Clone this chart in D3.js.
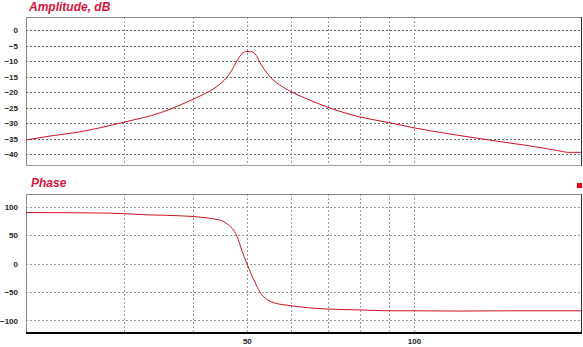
<!DOCTYPE html>
<html>
<head>
<meta charset="utf-8">
<script src="https://cdn.jsdelivr.net/npm/d3@7"></script>
<style>
  body { margin: 0; background: #fff; }
  svg { display: block; }
  .tick text { font-family: "Liberation Sans", Arial, sans-serif; font-weight: bold; font-size: 8px; fill: #222; }
  .title { font-family: "Liberation Sans", Arial, sans-serif; font-weight: bold; font-style: italic; font-size: 12px; fill: #d4143c; }
</style>
</head>
<body>
<div class="graph"></div>
<script>
// frequency response readings (Hz, dB, degrees)
var ampFreq = [20, 22, 25, 30, 35, 40, 42, 44, 45, 46, 47, 48, 49, 50, 51, 52, 53, 55, 58, 60, 65, 70, 80, 90, 100, 120, 140, 160, 180, 190, 200];
var ampDb   = [-35.4, -34.2, -32.8, -29.7, -26.6, -22.3, -20.5, -18.4, -17.0, -15.3, -12.9, -9.9, -7.6, -6.9, -7.0, -8.2, -11.0, -15.0, -18.3, -19.8, -22.6, -24.9, -28.0, -29.8, -31.5, -33.9, -35.7, -37.2, -38.7, -39.4, -39.4];

var phaseFreq = [20, 25, 28, 30, 33, 36, 40, 42, 44, 45, 46, 47, 48, 49, 50, 51, 52, 53, 54, 56, 60, 65, 70, 80, 90, 100, 120, 150, 200];
var phaseDeg  = [89.5, 89, 88.5, 87.5, 85.5, 84.5, 82.5, 80.5, 77.5, 75.5, 70, 62, 48, 22, 0, -20, -38, -53, -61, -69, -74, -78, -80, -81.5, -83, -83, -83.5, -83, -83];

var ampTicks = [0, -5, -10, -15, -20, -25, -30, -35, -40];
var phaseTicks = [100, 50, 0, -50, -100];
var freqGrid = [30, 40, 50, 60, 70, 80, 90, 100];
var freqLabels = [50, 100];

var width = 583, height = 347;
var left = 26, right = 581;

var svg = d3.select('.graph').append('svg')
    .attr('width', width)
    .attr('height', height);

var x = d3.scaleLog().domain([20, 200]).range([left, right]);
var yAmp = d3.scaleLinear().domain([-43.8, 4.2]).range([166, 17]);
var yPh = d3.scaleLinear().domain([-122, 122]).range([333, 194]);

function panel(y, ticks, freqs, values, title, titleX, titleY, hStroke) {
  var y0 = y.range()[1], y1 = y.range()[0];
  var g = svg.append('g');

  // horizontal grid
  g.selectAll('line.h').data(ticks).enter().append('line')
      .attr('x1', left).attr('x2', right)
      .attr('y1', function (d) { return Math.round(y(d)) + 0.5; })
      .attr('y2', function (d) { return Math.round(y(d)) + 0.5; })
      .attr('stroke', hStroke).attr('stroke-dasharray', '2,2');

  // vertical grid
  g.selectAll('line.v').data(freqGrid).enter().append('line')
      .attr('x1', function (d) { return Math.round(x(d)) + 0.5; })
      .attr('x2', function (d) { return Math.round(x(d)) + 0.5; })
      .attr('y1', y0).attr('y2', y1)
      .attr('stroke', '#999').attr('stroke-dasharray', '2,2');

  // frame
  g.append('line').attr('x1', left).attr('x2', right).attr('y1', y0 + 0.5).attr('y2', y0 + 0.5).attr('stroke', '#888');
  g.append('line').attr('x1', left + 0.5).attr('x2', left + 0.5).attr('y1', y0).attr('y2', y1).attr('stroke', '#888');
  g.append('line').attr('x1', right + 0.5).attr('x2', right + 0.5).attr('y1', y0).attr('y2', y1).attr('stroke', '#333');

  var axis = g.append('g')
      .attr('transform', 'translate(' + (left - 8) + ',0)')
      .call(d3.axisLeft(y).tickValues(ticks).tickSize(0).tickPadding(0));
  axis.select('.domain').remove();

  var line = d3.line()
      .x(function (d, i) { return x(freqs[i]); })
      .y(function (d) { return y(d); })
      .curve(d3.curveMonotoneX);

  g.append('path')
      .datum(values)
      .attr('d', line)
      .attr('fill', 'none')
      .attr('stroke', '#d2101e')
      .attr('stroke-width', 1);

  svg.append('text').attr('class', 'title')
      .attr('x', titleX).attr('y', titleY).text(title);
  return g;
}

var ampPanel = panel(yAmp, ampTicks, ampFreq, ampDb, 'Amplitude, dB', 29, 11, '#666');
ampPanel.append('line').attr('x1', left).attr('x2', right).attr('y1', 165.5).attr('y2', 165.5).attr('stroke', '#999');

var phasePanel = panel(yPh, phaseTicks, phaseFreq, phaseDeg, 'Phase', 31, 187, '#999');
phasePanel.append('line').attr('x1', left).attr('x2', right + 1).attr('y1', 333).attr('y2', 333).attr('stroke', '#000').attr('stroke-width', 2);

var xAxis = svg.append('g')
    .attr('transform', 'translate(0,338)')
    .call(d3.axisBottom(x).tickValues(freqLabels).tickFormat(d3.format('d')).tickSize(0).tickPadding(0));
xAxis.select('.domain').remove();

// marker
svg.append('rect').attr('x', 577).attr('y', 183).attr('width', 5).attr('height', 5).attr('fill', '#e8000c');
</script>
</body>
</html>
